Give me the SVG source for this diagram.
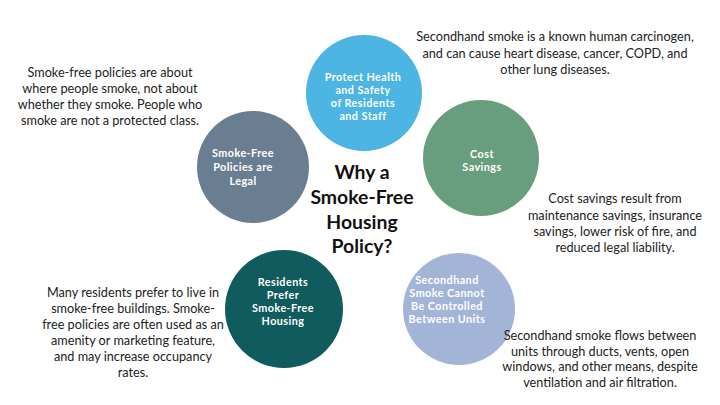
<svg xmlns="http://www.w3.org/2000/svg" width="720" height="405" viewBox="0 0 720 405">
<style>
.body{font-family:Lato,"Open Sans","Liberation Sans",sans-serif;font-size:12.7px;fill:#222;text-anchor:middle}
.lbl{font-family:Lato,"Open Sans","Liberation Sans",sans-serif;font-size:10.8px;font-weight:bold;letter-spacing:0.45px;fill:#fff;text-anchor:middle}
.title{font-family:Lato,"Open Sans","Liberation Sans",sans-serif;font-size:19.4px;font-weight:bold;fill:#111;text-anchor:middle}
</style>
<rect width="720" height="405" fill="#fff"/>
<g id="node-protect">
<circle cx="364" cy="93" r="58" fill="#4cb5e3"/>
<text class="lbl"><tspan x="363" y="81">Protect Health</tspan><tspan x="363" y="94">and Safety</tspan><tspan x="363" y="107">of Residents</tspan><tspan x="363" y="120">and Staff</tspan></text>
</g>
<g id="node-legal">
<circle cx="253" cy="167" r="56" fill="#6a7e92"/>
<text class="lbl"><tspan x="243" y="157">Smoke-Free</tspan><tspan x="243" y="171">Policies are</tspan><tspan x="243" y="185">Legal</tspan></text>
</g>
<g id="node-cost">
<circle cx="481" cy="158" r="58" fill="#689e7e"/>
<text class="lbl"><tspan x="482" y="158">Cost</tspan><tspan x="482" y="171">Savings</tspan></text>
</g>
<g id="node-prefer">
<circle cx="284" cy="309" r="59" fill="#0f5b5d"/>
<text class="lbl"><tspan x="283" y="286">Residents</tspan><tspan x="283" y="299">Prefer</tspan><tspan x="283" y="312">Smoke-Free</tspan><tspan x="283" y="325">Housing</tspan></text>
</g>
<g id="node-units">
<circle cx="459" cy="309" r="56" fill="#a3b5d7"/>
<text class="lbl"><tspan x="447" y="284">Secondhand</tspan><tspan x="447" y="297">Smoke Cannot</tspan><tspan x="447" y="310">Be Controlled</tspan><tspan x="447" y="323">Between Units</tspan></text>
</g>
<g id="center-title">
<text class="title"><tspan x="362" y="179">Why a</tspan><tspan x="362" y="204">Smoke-Free</tspan><tspan x="362" y="229">Housing</tspan><tspan x="362" y="253">Policy?</tspan></text>
</g>
<g id="notes">
<text class="body"><tspan x="555" y="41">Secondhand smoke is a known human carcinogen,</tspan><tspan x="555" y="58">and can cause heart disease, cancer, COPD, and</tspan><tspan x="555" y="74">other lung diseases.</tspan></text>
<text class="body"><tspan x="110" y="77">Smoke-free policies are about</tspan><tspan x="110" y="93">where people smoke, not about</tspan><tspan x="110" y="109">whether they smoke. People who</tspan><tspan x="110" y="125">smoke are not a protected class.</tspan></text>
<text class="body"><tspan x="615" y="203">Cost savings result from</tspan><tspan x="615" y="220">maintenance savings, insurance</tspan><tspan x="615" y="236">savings, lower risk of fire, and</tspan><tspan x="615" y="252">reduced legal liability.</tspan></text>
<text class="body"><tspan x="133" y="297">Many residents prefer to live in</tspan><tspan x="133" y="313">smoke-free buildings.  Smoke-</tspan><tspan x="133" y="329">free policies are often used as an</tspan><tspan x="133" y="345">amenity or marketing feature,</tspan><tspan x="133" y="361">and may increase occupancy</tspan><tspan x="133" y="377">rates.</tspan></text>
<text class="body"><tspan x="600" y="340">Secondhand smoke flows between</tspan><tspan x="600" y="356">units through ducts, vents, open</tspan><tspan x="600" y="371">windows, and other means, despite</tspan><tspan x="600" y="387">ventilation and air filtration.</tspan></text>
</g>
</svg>
